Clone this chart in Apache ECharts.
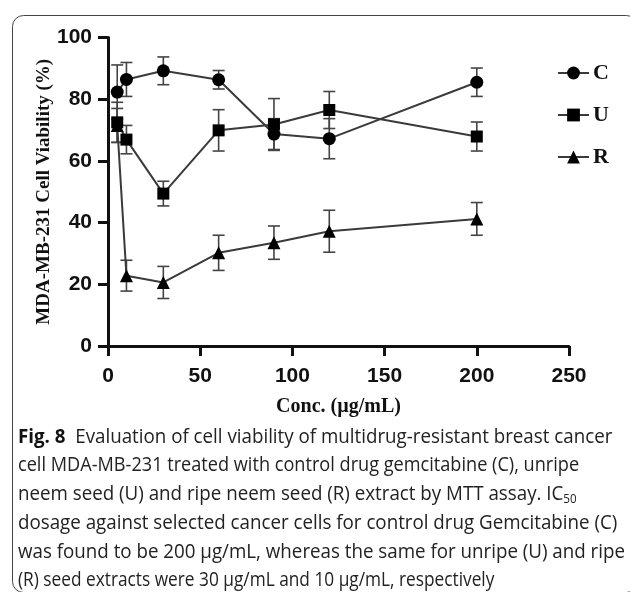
<!DOCTYPE html>
<html>
<head>
<meta charset="utf-8">
<script src="https://cdn.jsdelivr.net/npm/echarts@6/dist/echarts.min.js"></script>
<style>
  html, body { margin: 0; padding: 0; background: #fff; }
  #chart { width: 630px; height: 592px; }
</style>
</head>
<body>
<div id="chart"></div>
<script>
// Concentrations tested (µg/mL)
const concentrations = [5, 10, 30, 60, 90, 120, 200];

// Mean cell viability (%) and error (±) per treatment
const controlMean = [82.3, 86.4, 89.2, 86.3, 68.7, 67.2, 85.5];
const controlErr  = [8.8, 5.5, 4.5, 3.0, 5.0, 6.5, 4.6];
const unripeMean  = [72.5, 66.9, 49.4, 69.9, 71.8, 76.5, 67.9];
const unripeErr   = [6.5, 4.6, 4.0, 6.7, 8.4, 6.0, 4.7];
const ripeMean    = [71.5, 22.8, 20.6, 30.2, 33.5, 37.2, 41.2];
const ripeErr     = [5.5, 5.0, 5.2, 5.7, 5.4, 6.8, 5.3];

const seriesNames = ['C', 'U', 'R'];
const xTicks = [0, 50, 100, 150, 200, 250];
const yTicks = [0, 20, 40, 60, 80, 100];

// Caption lines: [bold lead, body text, subscript tail]
const captionLines = [
  ['Fig. 8', '  Evaluation of cell viability of multidrug-resistant breast cancer', ''],
  ['', 'cell MDA-MB-231 treated with control drug gemcitabine (C), unripe', ''],
  ['', 'neem seed (U) and ripe neem seed (R) extract by MTT assay. IC', '50'],
  ['', 'dosage against selected cancer cells for control drug Gemcitabine (C)', ''],
  ['', 'was found to be 200 µg/mL, whereas the same for unripe (U) and ripe', ''],
  ['', '(R) seed extracts were 30 µg/mL and 10 µg/mL, respectively', '']
];
// Approximate right edge of each caption line (px)
const captionRight = [623, 561, 606, 621, 625, 457];

const chart = echarts.init(document.getElementById('chart'), null, { renderer: 'canvas' });

const ink = '#111';
const lineInk = '#3a3a3a';
const serif = '"Liberation Serif", "Times New Roman", serif';
const sans = '"Liberation Sans", Arial, sans-serif';
const captionFont = '"Open Sans", "Noto Sans", sans-serif';
const capSize = 20;
const capLeft = 18;
const capTop = 437;
const capPitch = 28.7;

const measureCtx = document.createElement('canvas').getContext('2d');
function captionWidth(parts) {
  const [bold, body, sub] = parts;
  let w = 0;
  if (bold) { measureCtx.font = 'bold ' + capSize + 'px ' + captionFont; w += measureCtx.measureText(bold).width; }
  measureCtx.font = capSize + 'px ' + captionFont; w += measureCtx.measureText(body).width;
  if (sub) { measureCtx.font = (capSize * 0.62) + 'px ' + captionFont; w += measureCtx.measureText(sub).width; }
  return w;
}
function captionRich(parts) {
  const [bold, body, sub] = parts;
  return (bold ? '{b|' + bold + '}' : '') + '{t|' + body + '}' + (sub ? '{s|' + sub + '}' : '');
}

// Horizontal squeeze per line: half-way between a shared squeeze and the per-line fit,
// so the lines keep a consistent look while ending close to their wrap points
const fitScales = captionLines.map((p, i) => (captionRight[i] - capLeft) / captionWidth(p));
const sharedScale = Math.min(fitScales[0], fitScales[3], fitScales[4]);
const lineScales = fitScales.map(f => Math.min(sharedScale, Math.sqrt(sharedScale * f)));

function pairs(xs, ys, es) {
  return xs.map((x, i) => es ? [x, ys[i], es[i]] : [x, ys[i]]);
}

function errorBarSeries(name, xs, ys, es) {
  return {
    type: 'custom',
    name: name + ' error',
    z: 1,
    silent: true,
    data: pairs(xs, ys, es),
    encode: { x: 0, y: 1 },
    renderItem: function (params, api) {
      const x = api.value(0), m = api.value(1), e = api.value(2);
      const top = api.coord([x, m + e]);
      const bot = api.coord([x, m - e]);
      const hw = 6;
      const style = { stroke: '#444', lineWidth: 1.6 };
      return {
        type: 'group',
        children: [
          { type: 'line', shape: { x1: top[0], y1: top[1], x2: bot[0], y2: bot[1] }, style },
          { type: 'line', shape: { x1: top[0] - hw, y1: top[1], x2: top[0] + hw, y2: top[1] }, style },
          { type: 'line', shape: { x1: bot[0] - hw, y1: bot[1], x2: bot[0] + hw, y2: bot[1] }, style }
        ]
      };
    }
  };
}

function lineSeries(name, xs, ys, symbol, size) {
  return {
    type: 'line',
    name: name,
    z: 3,
    data: pairs(xs, ys),
    symbol: symbol,
    symbolSize: size,
    showAllSymbol: true,
    lineStyle: { color: lineInk, width: 2 },
    itemStyle: { color: '#000', borderWidth: 0 },
    emphasis: { disabled: true },
    animation: false
  };
}

const captionGraphics = captionLines.map((parts, i) => ({
  type: 'text',
  x: capLeft,
  y: capTop + i * capPitch,
  scaleX: lineScales[i],
  silent: true,
  style: {
    text: captionRich(parts),
    verticalAlign: 'middle',
    align: 'left',
    rich: {
      b: { fontWeight: 'bold', fontSize: capSize, fontFamily: captionFont, fill: '#111' },
      t: { fontSize: capSize, fontFamily: captionFont, fill: '#222' },
      s: { fontSize: capSize * 0.62, fontFamily: captionFont, fill: '#222', padding: [capSize * 0.5, 0, 0, 0] }
    }
  }
}));

const option = {
  animation: false,
  backgroundColor: '#fff',
  grid: { left: 108, right: 61, top: 37.5, bottom: 246, containLabel: false },
  xAxis: {
    type: 'value',
    min: xTicks[0], max: xTicks[xTicks.length - 1], interval: xTicks[1] - xTicks[0],
    name: 'Conc. (µg/mL)',
    nameLocation: 'middle',
    nameGap: 51,
    nameMoveOverlap: false,
    nameTextStyle: { fontFamily: serif, fontWeight: 'bold', fontSize: 20, color: ink },
    axisLine: { lineStyle: { color: ink, width: 3 } },
    axisTick: { show: true, length: 10, lineStyle: { color: ink, width: 3 } },
    axisLabel: { fontFamily: sans, fontWeight: 'bold', fontSize: 21, color: ink, margin: 20 },
    splitLine: { show: false }
  },
  yAxis: {
    type: 'value',
    min: yTicks[0], max: yTicks[yTicks.length - 1], interval: yTicks[1] - yTicks[0],
    name: 'MDA-MB-231 Cell Viability (%)',
    nameLocation: 'middle',
    nameGap: 54,
    nameRotate: 90,
    nameMoveOverlap: false,
    nameTextStyle: { fontFamily: serif, fontWeight: 'bold', fontSize: 19, color: ink },
    axisLine: { show: true, lineStyle: { color: ink, width: 3 } },
    axisTick: { show: true, length: 10, lineStyle: { color: ink, width: 3 } },
    axisLabel: { fontFamily: sans, fontWeight: 'bold', fontSize: 21, color: ink, margin: 16 },
    splitLine: { show: false }
  },
  legend: {
    orient: 'vertical',
    left: 552,
    top: 57,
    itemWidth: 31,
    itemHeight: 16,
    itemGap: 20,
    data: seriesNames,
    selectedMode: false,
    textStyle: { fontFamily: serif, fontWeight: 'bold', fontSize: 22, color: ink, padding: [0, 0, 0, -1] }
  },
  graphic: [
    {
      type: 'rect',
      left: 10, top: 13,
      shape: { width: 625, height: 577, r: 11 },
      style: { fill: 'none', stroke: '#444', lineWidth: 1 },
      silent: true, z: -10
    }
  ].concat(captionGraphics),
  series: [
    errorBarSeries('C', concentrations, controlMean, controlErr),
    errorBarSeries('U', concentrations, unripeMean, unripeErr),
    errorBarSeries('R', concentrations, ripeMean, ripeErr),
    lineSeries('C', concentrations, controlMean, 'circle', 13),
    lineSeries('U', concentrations, unripeMean, 'rect', 12),
    lineSeries('R', concentrations, ripeMean, 'triangle', 13)
  ]
};

chart.setOption(option);
</script>
</body>
</html>
